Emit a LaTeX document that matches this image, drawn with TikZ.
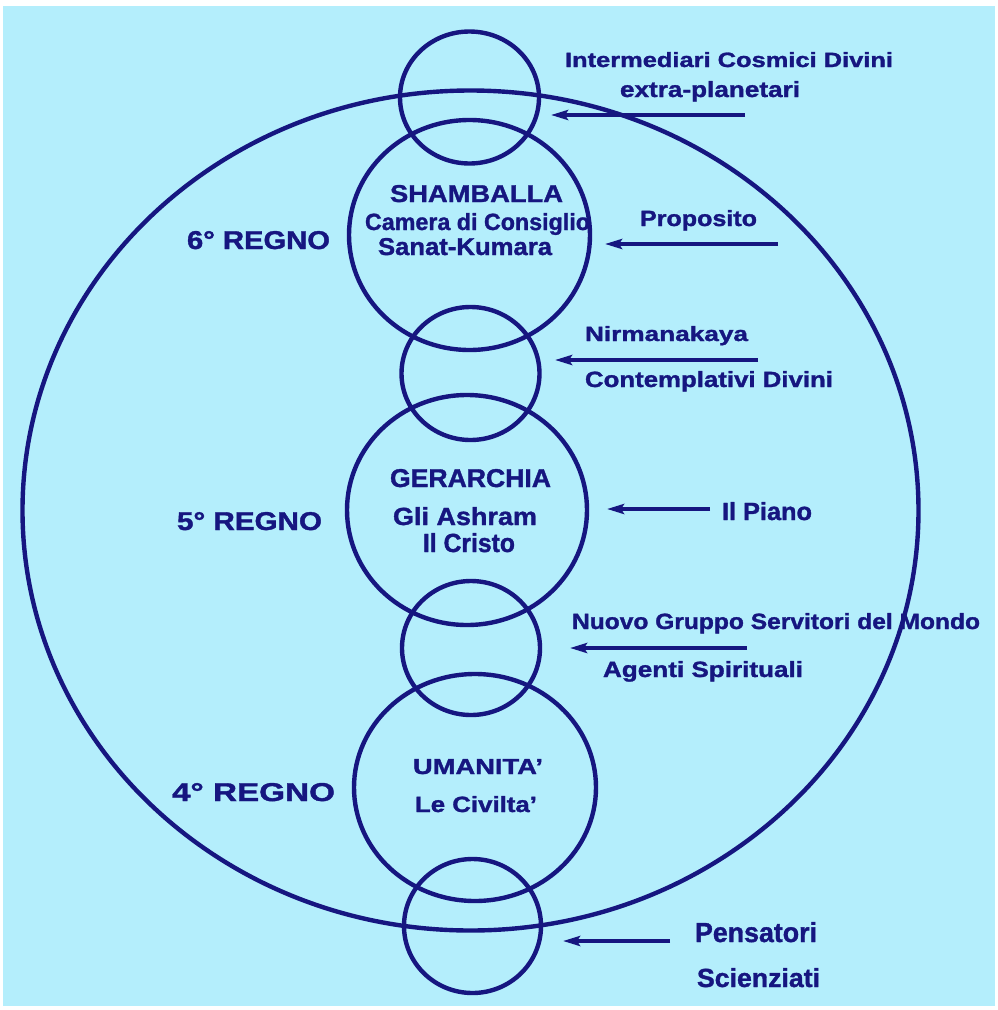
\documentclass[tikz,border=0pt]{standalone}
\usepackage{fontspec}
\setmainfont{Liberation Sans}[BoldFeatures={FakeBold=1.3}]
\usetikzlibrary{arrows.meta}
\definecolor{bg}{RGB}{180,238,252}
\definecolor{ink}{RGB}{22,22,128}
\newcommand\fitbox[3]{\resizebox{#1pt}{#2pt}{\bfseries #3}}
\begin{document}
\begin{tikzpicture}[x=1pt,y=-1pt,
  ring/.style={draw=ink, line width=4.4pt},
  lab/.style={inner sep=0pt, outer sep=0pt, anchor=base west, text=ink},
  feed/.style={draw=ink, line width=3.6pt, -{Stealth[length=17pt,width=10pt,inset=3pt]}}]
\useasboundingbox (0,0) rectangle (998,1010);
\fill[white] (0,0) rectangle (998,1010);
\fill[bg] (3,6) rectangle (995,1006);

% centres
\coordinate (big) at (470.5,510.5);
\coordinate (cA) at (469.5,97.5);
\coordinate (cSh) at (469.5,235);
\coordinate (cB) at (470.5,373.5);
\coordinate (cGe) at (467,510);
\coordinate (cC) at (471,648);
\coordinate (cUm) at (475,787.5);
\coordinate (cD) at (472.5,926);

\draw[ring] (big) ellipse [x radius=448pt, y radius=420pt];
\draw[ring] (cA) ellipse [x radius=69.5pt, y radius=66pt];
\draw[ring] (cSh) ellipse [x radius=120.5pt, y radius=115pt];
\draw[ring] (cB) ellipse [x radius=69pt, y radius=66.5pt];
\draw[ring] (cGe) ellipse [x radius=120pt, y radius=115pt];
\draw[ring] (cC) ellipse [x radius=69pt, y radius=67pt];
\draw[ring] (cUm) ellipse [x radius=121pt, y radius=113.5pt];
\draw[ring] (cD) ellipse [x radius=68.5pt, y radius=67pt];

% labels
\node[lab] (t1) at (565,67) {\fitbox{328}{15}{Intermediari Cosmici Divini}};
\node[lab] (t2) at (620,97) {\fitbox{180}{16}{extra-planetari}};
\node[lab] (t3) at (390,202) {\fitbox{173}{17}{SHAMBALLA}};
\node[lab] (t4) at (365,230) {\fitbox{225}{17}{Camera di Consiglio}};
\node[lab] (t5) at (378,255) {\fitbox{174}{17}{Sanat-Kumara}};
\node[lab] (t6) at (187,249) {\fitbox{143}{18}{6° REGNO}};
\node[lab] (t7) at (640,226) {\fitbox{117}{16}{Proposito}};
\node[lab] (t8) at (585,341) {\fitbox{163}{15}{Nirmanakaya}};
\node[lab] (t9) at (585,387) {\fitbox{248}{16}{Contemplativi Divini}};
\node[lab] (t10) at (390,487) {\fitbox{161}{18}{GERARCHIA}};
\node[lab] (t11) at (393,525) {\fitbox{144}{18}{Gli Ashram}};
\node[lab] (t12) at (423,552) {\fitbox{92}{19}{Il Cristo}};
\node[lab] (t13) at (177,530) {\fitbox{145}{18}{5° REGNO}};
\node[lab] (t14) at (722,520) {\fitbox{90}{18}{Il Piano}};
\node[lab] (t15) at (572,629) {\fitbox{408}{16}{Nuovo Gruppo Servitori del Mondo}};
\node[lab] (t16) at (603,677) {\fitbox{200}{16}{Agenti Spirituali}};
\node[lab] (t17) at (413,774) {\fitbox{130}{15}{UMANITA’}};
\node[lab] (t18) at (415,812) {\fitbox{122}{16}{Le Civilta’}};
\node[lab] (t19) at (172,801) {\fitbox{163}{18}{4° REGNO}};
\node[lab] (t20) at (695,942) {\fitbox{122}{20}{Pensatori}};
\node[lab] (t21) at (697,987) {\fitbox{123}{19}{Scienziati}};

% arrows
\coordinate (a1s) at (745,115); \coordinate (a1e) at (551,115);
\coordinate (a2s) at (778,244); \coordinate (a2e) at (605,244);
\coordinate (a3s) at (758,360); \coordinate (a3e) at (555,360);
\coordinate (a4s) at (710,509); \coordinate (a4e) at (607,509);
\coordinate (a5s) at (747,648); \coordinate (a5e) at (570,648);
\coordinate (a6s) at (670,941); \coordinate (a6e) at (563,941);
\draw[feed] (a1s) -- (a1e);
\draw[feed] (a2s) -- (a2e);
\draw[feed] (a3s) -- (a3e);
\draw[feed] (a4s) -- (a4e);
\draw[feed] (a5s) -- (a5e);
\draw[feed] (a6s) -- (a6e);
\end{tikzpicture}
\end{document}
